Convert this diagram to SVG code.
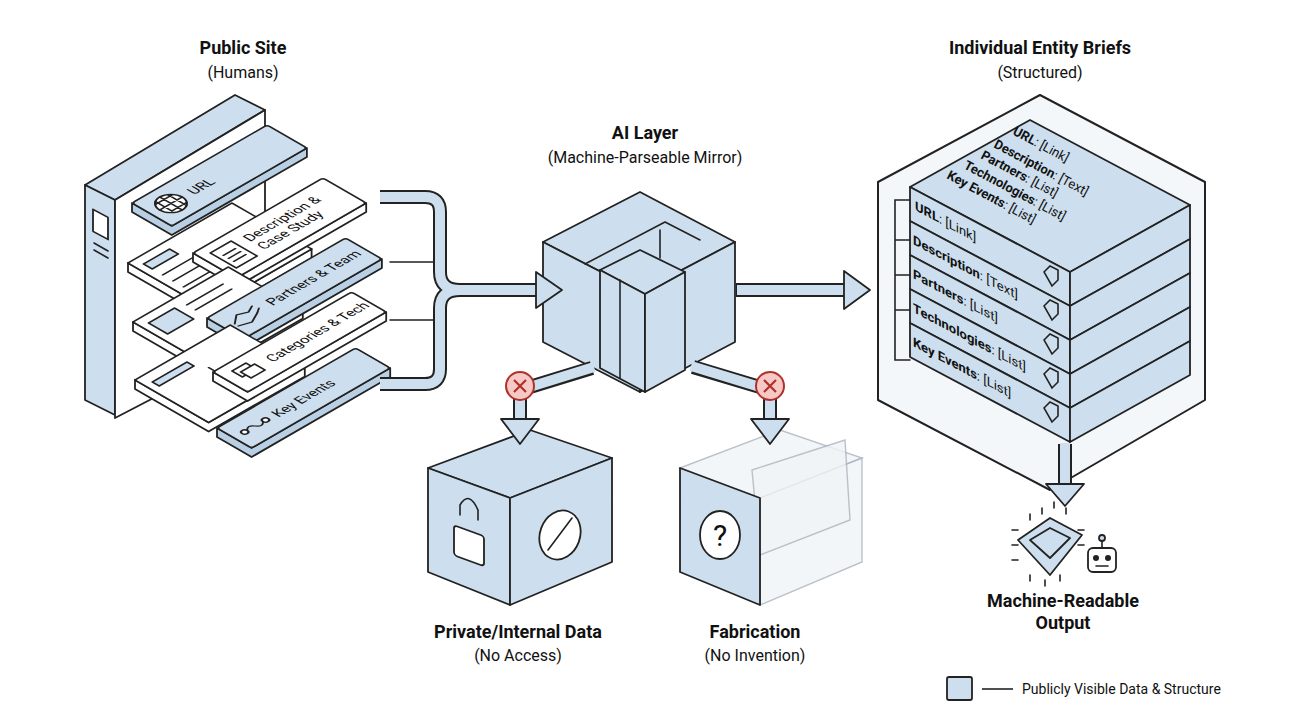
<svg xmlns="http://www.w3.org/2000/svg" width="1290" height="720" viewBox="0 0 1290 720">
<style>
.t{font-family:Roboto,"Liberation Sans",sans-serif;fill:#111}
.h{font-weight:700;font-size:18px}
.s{font-size:16px}
.b{fill:#cddfee;stroke:#222;stroke-width:1.8;stroke-linejoin:round}
.bd{fill:#b9d0e4;stroke:#222;stroke-width:1.8;stroke-linejoin:round}
.w{fill:#fff;stroke:#222;stroke-width:1.8;stroke-linejoin:round}
.ln{fill:none;stroke:#222;stroke-width:1.6;stroke-linecap:round}
.pipeo{fill:none;stroke:#222;stroke-width:14;stroke-linejoin:round}
.pipei{fill:none;stroke:#cddfee;stroke-width:10;stroke-linejoin:round}
.ct{font-family:Roboto,"Liberation Sans",sans-serif;font-size:14px;fill:#111}
.rt{font-family:Roboto,"Liberation Sans",sans-serif;font-size:13px;fill:#111}
.ghost{fill:#f1f4f7;stroke:#aab4bf;stroke-width:1.4;opacity:.8}
</style>
<rect width="1290" height="720" fill="#fff"/>

<text class="t h" x="243" y="54" text-anchor="middle">Public Site</text>
<text class="t s" x="243" y="78" text-anchor="middle">(Humans)</text>
<text class="t h" x="645" y="139" text-anchor="middle">AI Layer</text>
<text class="t s" x="645" y="163" text-anchor="middle">(Machine-Parseable Mirror)</text>
<text class="t h" x="1040" y="54" text-anchor="middle">Individual Entity Briefs</text>
<text class="t s" x="1040" y="78" text-anchor="middle">(Structured)</text>

<g id="public-site">
  <polygon class="b" points="85,185 235,95 265,110 115,200"/>
  <polygon class="b" points="85,185 115,200 115,415 85,400"/>
  <polygon class="w" points="115,200 265,110 265,340 115,418"/>
  <rect x="93" y="210" width="15" height="22" class="w" transform="skewY(28) translate(0,-50)"/>
  <path class="ln" d="M94,243 L108,251 M94,250 L108,258"/>

  <polygon class="bd" points="132,203 171.8,226 306.9,148 306.9,157 171.8,235 132,212"/>
  <g transform="matrix(0.866,-0.5,0.866,0.5,132,203)">
    <rect width="156" height="46" rx="3" class="b"/>
    <circle cx="22" cy="23" r="13" class="w"/>
    <path class="ln" d="M9,23 H35 M22,10 V36 M12,15 H32 M12,31 H32 M15,12 V34 M29,12 V34"/>
    <text class="ct" x="44" y="28">URL</text>
  </g>

  <polygon class="w" points="128,263 207.7,309 311.6,249 311.6,258 207.7,318 128,272"/>
  <g transform="matrix(0.866,-0.5,0.866,0.5,128,263)">
    <rect width="120" height="92" class="w"/>
    <rect x="8" y="10" width="30" height="10" class="b"/>
    <path class="ln" d="M8,32 H80 M8,44 H80 M8,56 H80 M8,68 H70"/>
  </g>
  <polygon class="w" points="193,253 236.3,278 366.2,203 366.2,212 236.3,287 193,262"/>
  <g transform="matrix(0.866,-0.5,0.866,0.5,193,253)">
    <rect width="150" height="50" rx="3" class="w"/>
    <rect x="10" y="10" width="24" height="30" class="w"/>
    <path class="ln" d="M15,20 H29 M15,26 H29 M15,32 H29"/>
    <text class="ct" x="44" y="22">Description &amp;</text>
    <text class="ct" x="44" y="38">Case Study</text>
  </g>

  <polygon class="w" points="133,322 206.6,364.5 302.8,309.5 302.8,318.5 206.6,373.5 133,331"/>
  <g transform="matrix(0.866,-0.5,0.866,0.5,133,322)">
    <rect width="110" height="85" class="w"/>
    <rect x="8" y="10" width="30" height="22" class="b"/>
    <rect x="50" y="40" width="10" height="10" class="b"/>
    <rect x="50" y="58" width="10" height="10" class="b"/>
    <path class="ln" d="M48,14 H90 M48,24 H90"/>
  </g>
  <polygon class="bd" points="207,318 243.4,339 381.9,259 381.9,268 243.4,348 207,327"/>
  <g transform="matrix(0.866,-0.5,0.866,0.5,207,318)">
    <rect width="160" height="42" rx="3" class="b"/>
    <path class="ln" d="M10,22 L20,14 L30,18 L38,14 M10,26 L22,30 L34,24 L40,20"/>
    <text class="ct" x="50" y="26">Partners &amp; Team</text>
  </g>

  <polygon class="w" points="135,380 208.6,422.5 304.8,367.5 304.8,376.5 208.6,431.5 135,389"/>
  <g transform="matrix(0.866,-0.5,0.866,0.5,135,380)">
    <rect width="110" height="85" class="w"/>
    <rect x="8" y="12" width="40" height="8" class="b"/>
    <path class="ln" d="M55,30 V70"/>
  </g>
  <polygon class="w" points="213,372 247.6,392 386.2,312 386.2,321 247.6,401 213,381"/>
  <g transform="matrix(0.866,-0.5,0.866,0.5,213,372)">
    <rect width="160" height="40" rx="3" class="w"/>
    <rect x="12" y="10" width="16" height="12" class="w"/>
    <rect x="16" y="16" width="16" height="12" class="w"/>
    <text class="ct" x="44" y="25">Categories &amp; Tech</text>
  </g>
  <polygon class="bd" points="217,428 251.6,448 390.2,368 390.2,377 251.6,457 217,437"/>
  <g transform="matrix(0.866,-0.5,0.866,0.5,217,428)">
    <rect width="160" height="40" rx="3" class="b"/>
    <circle cx="12" cy="20" r="3" class="w"/>
    <circle cx="36" cy="20" r="3" class="w"/>
    <path class="ln" d="M15,20 Q20,14 24,20 T33,20"/>
    <text class="ct" x="46" y="25">Key Events</text>
  </g>
</g>

<g id="ai-layer">
  <polygon class="b" points="543,242 640,192 735,242 640,292"/>
  <polygon class="b" points="543,242 640,292 640,392 543,342"/>
  <polygon class="b" points="640,292 735,242 735,342 640,392"/>
  <path class="ln" d="M585,264 L665,222 M665,222 L700,240 M660,230 L660,258"/>
  <polygon class="b" points="600,270 640,250 685,272 645,294"/>
  <polygon class="b" points="600,270 645,294 645,392 600,368"/>
  <polygon class="b" points="645,294 685,272 685,370 645,392"/>
  <path class="ln" d="M620,280 V378"/>
</g>

<g id="private-data">
  <polygon class="b" points="428,468 530,430 612,458 510,498"/>
  <polygon class="b" points="428,468 510,498 510,605 428,572"/>
  <polygon class="b" points="510,498 612,458 612,562 510,605"/>
  <rect x="454" y="530" width="30" height="30" rx="3" class="w" transform="skewY(20) translate(0,-170)"/>
  <path class="ln" d="M460,515 V505 Q469,490 478,510 V520" stroke-width="2.5"/>
  <ellipse cx="560" cy="535" rx="20" ry="25" class="w" transform="rotate(20 560 535)"/>
  <path class="ln" d="M548,550 L572,518" stroke-width="2.5"/>
</g>
<text class="t h" x="518" y="638" text-anchor="middle">Private/Internal Data</text>
<text class="t s" x="518" y="661" text-anchor="middle">(No Access)</text>

<g id="fabrication">
  <polygon class="ghost" points="680,468 780,430 862,458 760,498"/>
  <polygon class="ghost" points="760,498 862,458 862,562 760,605"/>
  <polygon class="ghost" points="752,470 845,440 850,520 760,555"/>
  <polygon class="b" points="680,468 760,498 760,605 680,572"/>
  <ellipse cx="720" cy="535" rx="20" ry="24" class="w"/>
  <text class="t" x="720" y="546" font-size="30" text-anchor="middle">?</text>
</g>
<text class="t h" x="755" y="638" text-anchor="middle">Fabrication</text>
<text class="t s" x="755" y="661" text-anchor="middle">(No Invention)</text>

<g id="entity-briefs">
  <path d="M878,182 L1040,95 L1205,182 L1205,400 L1050,490 L878,400 Z" fill="#f4f7fa" stroke="#222" stroke-width="2" stroke-linejoin="round"/>
  <path class="ln" d="M910,200 H895 V360 H910 M895,240 H910 M895,275 H910 M895,310 H910"/>
  <polygon class="b" points="910,187 1030,120 1190,205 1070,272"/>
  <g class="rt">
    <text transform="translate(1012,134) rotate(28)"><tspan font-weight="700">URL</tspan>: [Link]</text>
    <text transform="translate(993,147) rotate(28)"><tspan font-weight="700">Description</tspan>: [Text]</text>
    <text transform="translate(980,158) rotate(28)"><tspan font-weight="700">Partners</tspan>: [List]</text>
    <text transform="translate(963,168) rotate(28)"><tspan font-weight="700">Technologies</tspan>: [List]</text>
    <text transform="translate(946,178) rotate(28)"><tspan font-weight="700">Key Events</tspan>: [List]</text>
  </g>
  <g>
    <polygon class="b" points="910,187 1070,272 1070,306 910,221"/><polygon class="b" points="1070,272 1190,205 1190,239 1070,306"/>
    <polygon class="b" points="910,221 1070,306 1070,340 910,255"/><polygon class="b" points="1070,306 1190,239 1190,273 1070,340"/>
    <polygon class="b" points="910,255 1070,340 1070,374 910,289"/><polygon class="b" points="1070,340 1190,273 1190,307 1070,374"/>
    <polygon class="b" points="910,289 1070,374 1070,408 910,323"/><polygon class="b" points="1070,374 1190,307 1190,341 1070,408"/>
    <polygon class="b" points="910,323 1070,408 1070,442 910,357"/><polygon class="b" points="1070,408 1190,341 1190,375 1070,442"/>
  </g>
  <g class="rt" font-size="14">
    <text transform="matrix(1,0.53,0,1,915,210)"><tspan font-weight="700">URL</tspan>: [Link]</text>
    <text transform="matrix(1,0.53,0,1,913,244)"><tspan font-weight="700">Description</tspan>: [Text]</text>
    <text transform="matrix(1,0.53,0,1,913,278)"><tspan font-weight="700">Partners</tspan>: [List]</text>
    <text transform="matrix(1,0.53,0,1,913,312)"><tspan font-weight="700">Technologies</tspan>: [List]</text>
    <text transform="matrix(1,0.53,0,1,913,346)"><tspan font-weight="700">Key Events</tspan>: [List]</text>
  </g>
  <g class="ln">
    <path d="M1044,272 l6,-6 l8,4 v10 l-6,6 z M1044,306 l6,-6 l8,4 v10 l-6,6 z M1044,340 l6,-6 l8,4 v10 l-6,6 z M1044,374 l6,-6 l8,4 v10 l-6,6 z M1044,408 l6,-6 l8,4 v10 l-6,6 z"/>
  </g>
</g>

<g id="output">
  <g class="ln">
    <path d="M1030,520 v-6 M1042,514 v-6 M1054,508 v-6 M1066,514 v-6 M1018,530 h-6 M1018,545 h-6 M1018,560 h-6 M1078,530 h6 M1078,545 h6 M1030,575 v6 M1045,580 v6 M1060,575 v6"/>
  </g>
  <polygon class="b" points="1018,540 1050,518 1082,535 1050,575"/>
  <polygon class="b" points="1030,540 1050,528 1070,538 1050,558"/>
  <rect x="1088" y="548" width="28" height="24" rx="5" class="w"/>
  <circle cx="1096" cy="558" r="3" fill="#222"/><circle cx="1108" cy="558" r="3" fill="#222"/>
  <path class="ln" d="M1096,566 H1108 M1102,548 V540"/>
  <circle cx="1102" cy="538" r="3" class="b"/>
</g>
<text class="t h" x="1063" y="607" text-anchor="middle">Machine-Readable</text>
<text class="t h" x="1063" y="629" text-anchor="middle">Output</text>

<g id="connectors">
  <path class="pipeo" d="M380,197 H425 Q440,197 440,212 V272 Q440,290 460,290 H542 M380,384 H425 Q440,384 440,369 V308 Q440,290 460,290"/>
  <path class="pipei" d="M380,197 H425 Q440,197 440,212 V272 Q440,290 460,290 H542 M380,384 H425 Q440,384 440,369 V308 Q440,290 460,290"/>
  <path class="ln" d="M390,262 H433 M390,320 H433"/>
  <polygon class="b" points="536,272 562,290 536,308"/>
  <path class="pipeo" d="M736,290 H845"/>
  <path class="pipei" d="M737,290 H846"/>
  <polygon class="b" points="844,271 870,290 844,309"/>
  <path class="pipeo" d="M592,368 L520,390 V420"/>
  <path class="pipei" d="M594,367 L520,390 V421"/>
  <polygon class="b" points="501,419 539,419 520,444"/>
  <path class="pipeo" d="M693,367 L770,390 V420"/>
  <path class="pipei" d="M691,366 L770,390 V421"/>
  <polygon class="b" points="751,419 789,419 770,444"/>
  <circle cx="520" cy="386" r="14" fill="#f6c9c6" stroke="#b0302a" stroke-width="2"/>
  <path d="M514,380 L526,392 M526,380 L514,392" stroke="#b0302a" stroke-width="2.2"/>
  <circle cx="770" cy="386" r="14" fill="#f6c9c6" stroke="#b0302a" stroke-width="2"/>
  <path d="M764,380 L776,392 M776,380 L764,392" stroke="#b0302a" stroke-width="2.2"/>
  <path class="pipeo" d="M1065,444 V485"/>
  <path class="pipei" d="M1065,443 V486"/>
  <polygon class="b" points="1046,484 1084,484 1065,506"/>
</g>

<g id="legend">
  <rect x="947" y="677" width="25" height="23" rx="2" class="b"/>
  <line x1="982" y1="689" x2="1013" y2="689" stroke="#222" stroke-width="1.6"/>
  <text class="t" x="1022" y="694" font-size="14">Publicly Visible Data &amp; Structure</text>
</g>
</svg>
